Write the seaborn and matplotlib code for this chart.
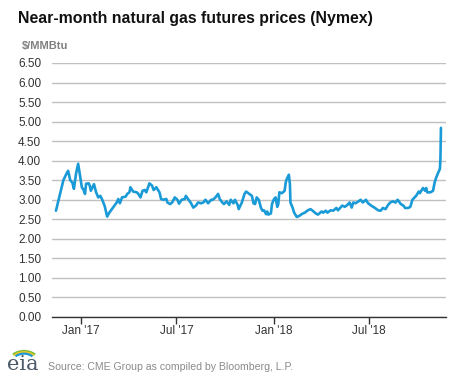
import numpy as np
import pandas as pd
import matplotlib
matplotlib.use("Agg")
import matplotlib.pyplot as plt
from matplotlib.patches import Arc
import seaborn as sns

# near-month futures price
dates = [
    "2016-11-15", "2016-11-29", "2016-12-05", "2016-12-08", "2016-12-12", "2016-12-16",
    "2016-12-19", "2016-12-23", "2016-12-27", "2016-12-30", "2017-01-03", "2017-01-06",
    "2017-01-09", "2017-01-11", "2017-01-16", "2017-01-18", "2017-01-20", "2017-01-26",
    "2017-01-30", "2017-02-03", "2017-02-07", "2017-02-10", "2017-02-15", "2017-02-20",
    "2017-02-24", "2017-03-03", "2017-03-10", "2017-03-13", "2017-03-16", "2017-03-20",
    "2017-03-27", "2017-03-30", "2017-04-03", "2017-04-05", "2017-04-10", "2017-04-17",
    "2017-04-20", "2017-04-24", "2017-04-28", "2017-05-02", "2017-05-05", "2017-05-11",
    "2017-05-16", "2017-05-19", "2017-05-24", "2017-05-30", "2017-06-02", "2017-06-06",
    "2017-06-12", "2017-06-14", "2017-06-19", "2017-06-23", "2017-06-28", "2017-07-03",
    "2017-07-06", "2017-07-11", "2017-07-17", "2017-07-19", "2017-07-24", "2017-07-28",
    "2017-08-02", "2017-08-07", "2017-08-11", "2017-08-17", "2017-08-21", "2017-08-25",
    "2017-08-30", "2017-09-05", "2017-09-08", "2017-09-13", "2017-09-18", "2017-09-21",
    "2017-09-26", "2017-09-29", "2017-10-04", "2017-10-09", "2017-10-12", "2017-10-17",
    "2017-10-20", "2017-10-25", "2017-10-27", "2017-11-02", "2017-11-07", "2017-11-10",
    "2017-11-16", "2017-11-21", "2017-11-24", "2017-11-27", "2017-11-30", "2017-12-04",
    "2017-12-08", "2017-12-11", "2017-12-14", "2017-12-18", "2017-12-20", "2017-12-22",
    "2017-12-27", "2017-12-29", "2018-01-02", "2018-01-05", "2018-01-08", "2018-01-10",
    "2018-01-12", "2018-01-17", "2018-01-22", "2018-01-24", "2018-01-26", "2018-01-30",
    "2018-02-01", "2018-02-02", "2018-02-06", "2018-02-09", "2018-02-14", "2018-02-19",
    "2018-02-23", "2018-03-01", "2018-03-07", "2018-03-12", "2018-03-16", "2018-03-22",
    "2018-03-26", "2018-04-02", "2018-04-05", "2018-04-10", "2018-04-13", "2018-04-19",
    "2018-04-24", "2018-04-30", "2018-05-03", "2018-05-07", "2018-05-11", "2018-05-16",
    "2018-05-21", "2018-05-25", "2018-05-29", "2018-06-01", "2018-06-05", "2018-06-11",
    "2018-06-15", "2018-06-19", "2018-06-25", "2018-06-29", "2018-07-05", "2018-07-11",
    "2018-07-18", "2018-07-23", "2018-07-27", "2018-08-01", "2018-08-06", "2018-08-10",
    "2018-08-15", "2018-08-20", "2018-08-24", "2018-08-30", "2018-09-04", "2018-09-07",
    "2018-09-13", "2018-09-17", "2018-09-21", "2018-09-25", "2018-09-28", "2018-10-03",
    "2018-10-05", "2018-10-11", "2018-10-15", "2018-10-17", "2018-10-19", "2018-10-25",
    "2018-10-30", "2018-11-02", "2018-11-05", "2018-11-09", "2018-11-12", "2018-11-13",
    "2018-11-14",
]
prices = [
    2.72, 3.50, 3.67, 3.74, 3.50, 3.44,
    3.28, 3.67, 3.92, 3.67, 3.32, 3.26,
    3.15, 3.41, 3.42, 3.36, 3.23, 3.40,
    3.19, 3.06, 3.10, 3.02, 2.85, 2.57,
    2.67, 2.80, 2.93, 3.02, 2.91, 3.06,
    3.08, 3.15, 3.19, 3.32, 3.21, 3.19,
    3.15, 3.06, 3.23, 3.25, 3.19, 3.42,
    3.36, 3.25, 3.32, 3.19, 3.02, 3.00,
    3.02, 2.93, 2.89, 2.93, 3.06, 3.00,
    2.90, 3.00, 3.02, 3.10, 3.00, 2.93,
    2.80, 2.85, 2.93, 2.91, 2.93, 3.00,
    2.91, 3.00, 3.00, 3.06, 3.15, 3.02,
    2.93, 2.89, 2.96, 2.87, 3.00, 2.91,
    3.00, 2.87, 2.76, 2.93, 3.15, 3.21,
    3.15, 3.10, 2.91, 2.89, 3.06, 3.00,
    2.80, 2.72, 2.73, 2.63, 2.70, 2.62,
    2.65, 2.89, 3.02, 3.06, 2.82, 2.89,
    3.19, 3.17, 3.23, 3.44, 3.53, 3.64,
    3.40, 2.93, 2.80, 2.67, 2.56, 2.59,
    2.63, 2.67, 2.73, 2.76, 2.72, 2.65,
    2.62, 2.70, 2.67, 2.72, 2.67, 2.73,
    2.72, 2.79, 2.73, 2.79, 2.85, 2.82,
    2.87, 2.93, 2.80, 2.93, 2.91, 2.96,
    3.00, 2.93, 3.00, 2.91, 2.85, 2.80,
    2.73, 2.72, 2.79, 2.76, 2.87, 2.93,
    2.96, 2.93, 3.00, 2.89, 2.85, 2.79,
    2.79, 2.82, 3.00, 3.06, 3.10, 3.21,
    3.17, 3.30, 3.23, 3.30, 3.19, 3.19,
    3.23, 3.44, 3.57, 3.70, 3.79, 4.05,
    4.84,
]
y_ticks = [0.0, 0.5, 1.0, 1.5, 2.0, 2.5, 3.0, 3.5, 4.0, 4.5, 5.0, 5.5, 6.0, 6.5]
x_ticks = ["2017-01-01", "2017-07-01", "2018-01-01", "2018-07-01"]
x_tick_labels = ["Jan '17", "Jul '17", "Jan '18", "Jul '18"]

df = pd.DataFrame({"date": pd.to_datetime(dates), "price": prices})

sns.set_style("white")
plt.rcParams["font.family"] = ["Liberation Sans", "DejaVu Sans"]

fig = plt.figure(figsize=(4.77, 3.79), dpi=100)
ax = fig.add_axes([0.1096, 0.1636, 0.8248, 0.6702])

sns.lineplot(data=df, x="date", y="price", ax=ax, color="#1a9ad6", linewidth=1.9)

ax.set_ylim(0, 6.5)
ax.set_xlim(pd.Timestamp("2016-11-08"), pd.Timestamp("2018-11-23"))
ax.set_yticks(y_ticks)
ax.set_yticklabels([f"{v:.2f}" for v in y_ticks])
ax.set_xticks(pd.to_datetime(x_ticks))
ax.set_xticklabels(x_tick_labels)
ax.yaxis.grid(True, color="#c0c0c0", linewidth=1)
ax.xaxis.grid(False)
ax.set_xlabel("")
ax.set_ylabel("")

for side in ["top", "right", "left"]:
    ax.spines[side].set_visible(False)
ax.spines["bottom"].set_color("#333333")
ax.spines["bottom"].set_linewidth(1)
ax.tick_params(axis="y", length=0, pad=8, labelsize=8.5, labelcolor="#333333")
ax.tick_params(axis="x", length=5, width=1, color="#333333", direction="out",
               bottom=True, pad=0.5, labelsize=8.5, labelcolor="#333333")

fig.text(18 / 477, 1 - 18 / 379, "Near-month natural gas futures prices (Nymex)",
         fontsize=11.4, fontweight="bold", color="#111111", va="center", ha="left")
fig.text(22 / 477, 1 - 46 / 379, "$/MMBtu", fontsize=8, fontweight="bold",
         color="#808080", va="center", ha="left")
fig.text(48 / 477, 1 - 367 / 379, "Source: CME Group as compiled by Bloomberg, L.P.",
         fontsize=7.6, color="#8a8a8a", va="center", ha="left")

# eia logo
fig.text(7 / 477, 1 - 365 / 379, "eia", fontsize=15, family="DejaVu Serif",
         color="#4a5a68", va="center", ha="left")
for col, r in [("#7bbf3a", 1.0), ("#f3c623", 0.88), ("#1a9ad6", 0.76)]:
    fig.patches.append(Arc((24 / 477, 1 - 362 / 379), 30 / 477 * r, 22 / 379 * r,
                           theta1=40, theta2=140, color=col, linewidth=1.6,
                           transform=fig.transFigure, figure=fig))

fig.savefig("out.png", dpi=100)
